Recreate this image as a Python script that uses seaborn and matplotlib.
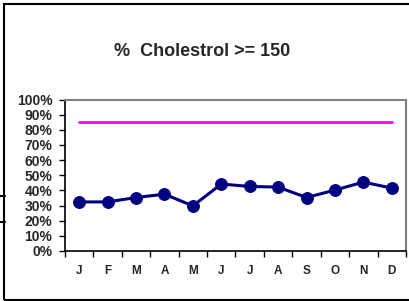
import matplotlib
matplotlib.use("Agg")
import matplotlib.pyplot as plt
import seaborn as sns
import pandas as pd
from matplotlib.patches import Rectangle
from matplotlib.lines import Line2D
from matplotlib.ticker import FixedLocator, PercentFormatter

months = ["J", "F", "M", "A", "M", "J", "J", "A", "S", "O", "N", "D"]
cholesterol = [32.4, 32.4, 35.3, 37.5, 29.8, 44.2, 42.6, 42.2, 35.3, 40.2, 45.5, 41.5]
target = [85, 85, 85, 85, 85, 85, 85, 85, 85, 85, 85, 85]
title = "%  Cholestrol >= 150"

sns.set_style("white")
plt.rcParams["font.family"] = ["Liberation Sans", "DejaVu Sans"]

df = pd.DataFrame({"pos": range(len(months)), "month": months,
                   "value": cholesterol, "target": target})

fig = plt.figure(figsize=(4.10, 3.01), dpi=100)
ax = fig.add_axes([65/410, 1-251/301, (406-65)/410, (251-99.5)/301])

sns.lineplot(data=df, x="pos", y="target", ax=ax, color="#FF00FF", lw=2.0, sort=False)
sns.lineplot(data=df, x="pos", y="value", ax=ax, color="#000080", lw=2.2,
             marker="o", markersize=8.5, markeredgecolor="#000080", sort=False)

ax.set_xlim(-0.5, len(months) - 0.5)
ax.set_ylim(0, 100)
ax.set_xlabel("")
ax.set_ylabel("")

ax.xaxis.set_major_locator(FixedLocator([i - 0.5 for i in range(len(months) + 1)]))
ax.xaxis.set_minor_locator(FixedLocator(list(range(len(months)))))
ax.set_xticklabels([], minor=False)
ax.set_xticklabels(months, minor=True)
ax.tick_params(axis="x", which="major", direction="out", length=4, width=1, color="black", bottom=True)
ax.tick_params(axis="x", which="minor", length=0, pad=10, labelsize=8.5)
for lab in ax.get_xticklabels(minor=True):
    lab.set_fontweight("bold")

ax.set_yticks(range(0, 101, 10))
ax.yaxis.set_major_formatter(PercentFormatter(decimals=0))
ax.tick_params(axis="y", direction="out", length=4, width=1, color="black", left=True,
               labelsize=10, pad=5)
for lab in ax.get_yticklabels():
    lab.set_fontweight("bold")

for s in ["left", "bottom"]:
    ax.spines[s].set_color("black")
    ax.spines[s].set_linewidth(1.2)
for s in ["top", "right"]:
    ax.spines[s].set_color("#808080")
    ax.spines[s].set_linewidth(1.5)

fig.text(202/410, 1-52/301, title, ha="center", va="center",
         fontsize=13, fontweight="bold")

# outer chart frame
fig.patches.append(Rectangle((4.5/410, 1.5/301), 1.02, 1-5/301, transform=fig.transFigure,
                             fill=False, edgecolor="black", lw=1.5))
# clipped fragments of a neighbouring chart at the left edge
fig.add_artist(Line2D([0, 5/410], [1-196/301]*2, color="black", lw=1.5))
fig.add_artist(Line2D([0, 5/410], [1-222/301]*2, color="black", lw=1.5))

fig.savefig("out.png", dpi=100)
